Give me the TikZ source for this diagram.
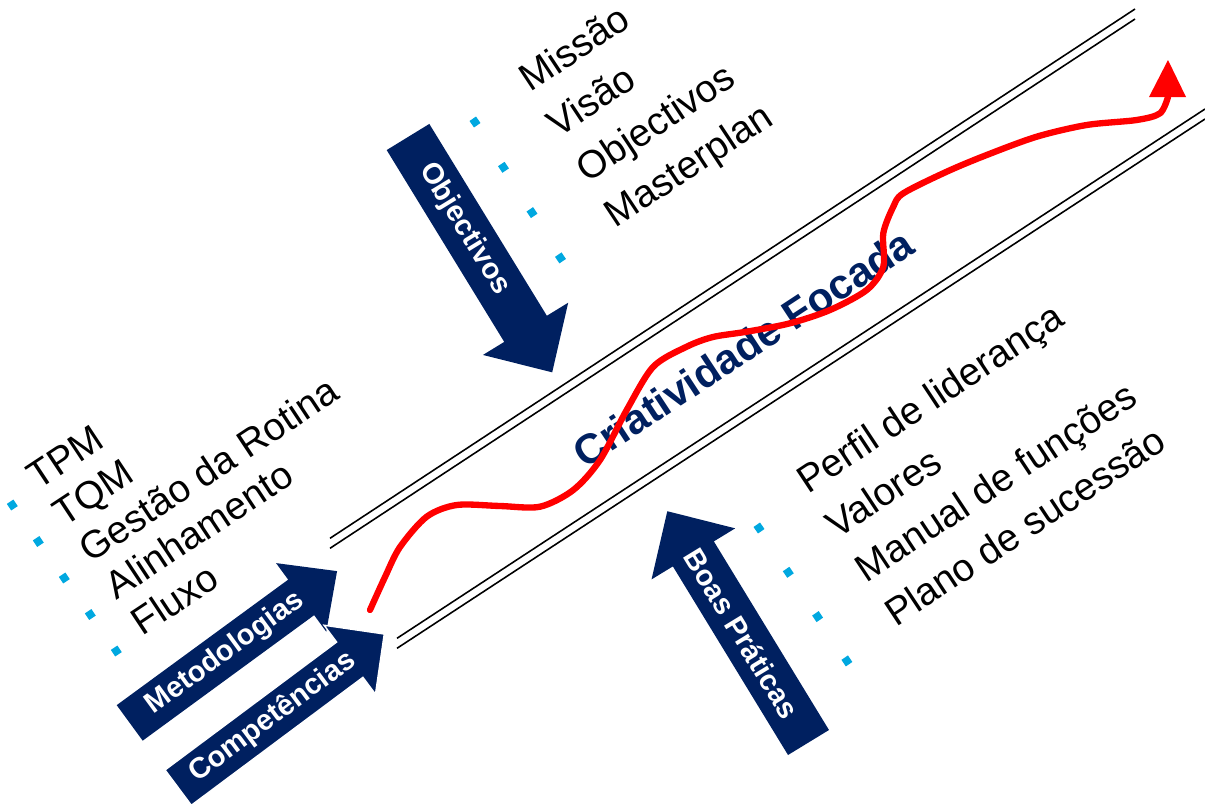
\documentclass[tikz,border=0pt]{standalone}
\usepackage{fontspec}
\setmainfont{Liberation Sans}
\usetikzlibrary{arrows}
\definecolor{darknavy}{HTML}{002060}
\definecolor{bulletblue}{HTML}{00A8E0}
\tikzstyle{listitem} = [anchor=base west, inner sep=0pt, rotate=33.5, font=\fontsize{22}{26}\selectfont]
\tikzstyle{bulletsq} = [fill=bulletblue, minimum size=4.5pt, inner sep=0pt, rotate=34]
\tikzstyle{band} = [line width=0.9pt, black]
\tikzstyle{blockarrow} = [fill=darknavy]
\tikzstyle{arrowtext} = [text=white, inner sep=0pt, font=\bfseries\fontsize{16.6}{20}\selectfont]
\tikzstyle{flow} = [red, line width=3.6pt, line cap=round, line join=round]

\begin{document}
\begin{tikzpicture}[x=0.02cm, y=-0.02cm]
    \useasboundingbox (0,0) rectangle (1205,805);

    % the two double lines of the channel
    \draw[band] (330,538.3) -- (1135,9);
    \draw[band] (330,548.3) -- (1135,19);
    \draw[band] (397,638.3) -- (1205,109);
    \draw[band] (397,648.3) -- (1205,119);

    % lists
    \foreach \txt [count=\i from 0] in {Missão, Visão, Objectivos, Masterplan} {
        \node[bulletsq] (ob\i) at ({475+28.5*\i},{122+45.3*\i}) {};
        \node[listitem] (ot\i) at ({530+28.5*\i},{93+45.3*\i}) {\txt};
    }
    \foreach \txt [count=\i from 0] in {TPM, TQM, Gestão da Rotina, Alinhamento, Fluxo} {
        \node[bulletsq] (mb\i) at ({12.3+26*\i},{505+36.5*\i}) {};
        \node[listitem] (mt\i) at ({38.5+26*\i},{491+36.5*\i}) {\txt};
    }
    \foreach \txt [count=\i from 0] in {Perfil de liderança, Valores, Manual de funções, Plano de sucessão} {
        \node[bulletsq] (bb\i) at ({759+29.3*\i},{528+44.3*\i}) {};
        \node[listitem] (bt\i) at ({808+29.3*\i},{495+44.3*\i}) {\txt};
    }

    % block arrows
    \begin{scope}[shift={(408,137)}, rotate=-58.5]
        \fill[blockarrow] (0,25) -- (225,25) -- (225,50) -- (276,0) -- (225,-50) -- (225,-25) -- (0,-25) -- cycle;
        \node[arrowtext, rotate=-58.5] (objectivos) at (108,0) {Objectivos};
    \end{scope}
    \begin{scope}[shift={(808.5,742.5)}, rotate=121.4]
        \fill[blockarrow] (0,24) -- (221,24) -- (221,49) -- (271,0) -- (221,-49) -- (221,-24) -- (0,-24) -- cycle;
        \node[arrowtext, rotate=-58.6] (praticas) at (128,0) {Boas Práticas};
    \end{scope}
    \begin{scope}[shift={(129.7,722.9)}, rotate=36.2]
        \fill[blockarrow] (0,22) -- (212.5,22) -- (212.5,42.5) -- (257,0) -- (212.5,-42.5) -- (212.5,-22) -- (0,-22) -- cycle;
        \node[arrowtext, rotate=36.2] (metodologias) at (118,0) {Metodologias};
    \end{scope}
    \begin{scope}[shift={(178.2,787.6)}, rotate=36.7]
        \filldraw[blockarrow, draw=white, line width=0.8pt] (0,22) -- (214,22) -- (214,43) -- (257,0) -- (214,-43) -- (214,-22) -- (0,-22) -- cycle;
        \node[arrowtext, rotate=36.7] (competencias) at (118,0) {Competências};
    \end{scope}

    % title in the channel
    \node[text=darknavy, rotate=33.3, font=\bfseries\fontsize{23.8}{28}\selectfont] (focus) at (743,348) {Criatividade Focada};

    % red path
    \draw[flow] plot[smooth, tension=0.5] coordinates {(370,610) (385,577) (400,547) (426.7,516.7) (456.7,505) (500,506) (540,506.7) (573.3,490) (600,460) (626.7,410) (653.3,366.7) (686.7,346.7) (713,337) (746.7,331.7) (790,323.3) (830,310) (866.7,290) (883.3,266.7) (883.3,233.3) (893.3,206.7) (903.3,193.3) (946.7,171.7) (986.7,155) (1036.7,136.7) (1086.7,125) (1136.7,120) (1160,113.3) (1168,97)};
    \fill[red] (1149,97) -- (1186,97) -- (1168,60) -- cycle;
\end{tikzpicture}
\end{document}
